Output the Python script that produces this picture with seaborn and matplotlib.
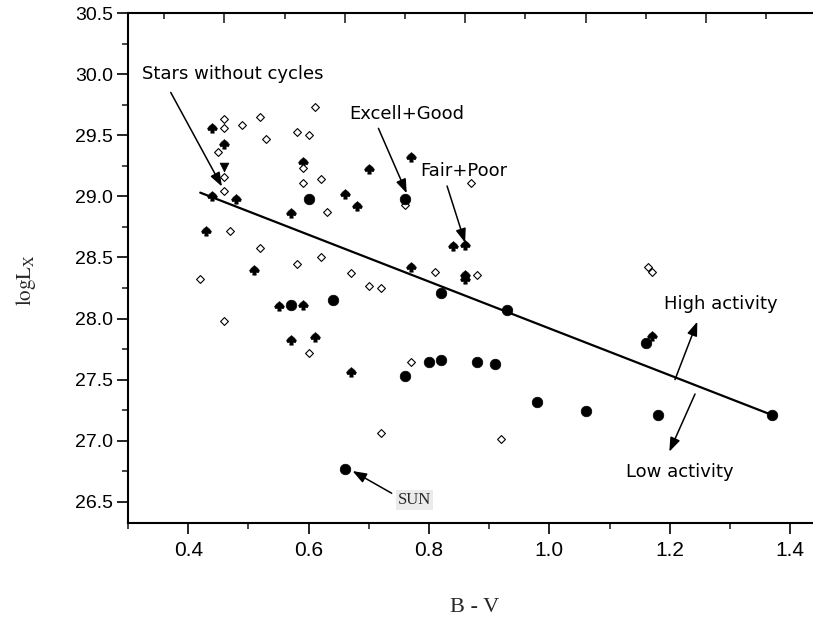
import matplotlib
matplotlib.use("Agg")
import matplotlib.pyplot as plt
from matplotlib.path import Path
from matplotlib.ticker import FixedLocator, FormatStrFormatter
from matplotlib import font_manager
import pandas as pd
import seaborn as sns

# Stars with well-determined cycles (Excell + Good)
good_bv = [0.60, 0.76, 0.57, 0.64, 0.82, 0.93, 0.76, 0.80, 0.82, 0.88, 0.91, 0.98, 1.06, 1.16, 1.18, 1.37]
good_lx = [28.98, 28.98, 28.11, 28.15, 28.21, 28.07, 27.53, 27.64, 27.66, 27.64, 27.63, 27.32, 27.24, 27.80, 27.21, 27.21]

# The Sun
sun_bv = [0.66]
sun_lx = [26.77]

# Stars with poorly determined cycles (Fair + Poor)
fair_bv = [0.44, 0.46, 0.59, 0.66, 0.68, 0.57, 0.44, 0.48, 0.70, 0.77, 0.43, 0.51,
           0.55, 0.59, 0.57, 0.61, 0.67, 0.84, 0.86, 0.77, 0.86, 0.86, 1.17]
fair_lx = [29.56, 29.43, 29.28, 29.02, 28.92, 28.86, 29.00, 28.98, 29.22, 29.32, 28.72, 28.40,
           28.10, 28.11, 27.82, 27.85, 27.56, 28.59, 28.60, 28.42, 28.36, 28.32, 27.86]

# Single flagged star
flag_bv = [0.46]
flag_lx = [29.24]

# Stars without cycles
flat_bv = [0.46, 0.46, 0.49, 0.52, 0.61, 0.58, 0.60, 0.53, 0.45, 0.46, 0.46, 0.59,
           0.59, 0.62, 0.63, 0.76, 0.87, 0.47, 0.52, 0.58, 0.62, 0.67, 0.70, 0.72,
           0.42, 0.81, 0.88, 0.46, 0.60, 0.77, 0.72, 0.92, 1.163, 1.17]
flat_lx = [29.63, 29.56, 29.58, 29.65, 29.73, 29.53, 29.50, 29.47, 29.36, 29.16, 29.04, 29.23,
           29.11, 29.14, 28.87, 28.93, 29.11, 28.72, 28.58, 28.45, 28.50, 28.37, 28.27, 28.25,
           28.32, 28.38, 28.36, 27.98, 27.72, 27.64, 27.06, 27.01, 28.42, 28.38]

# Activity boundary line
fit_bv = [0.42, 1.37]
fit_lx = [29.03, 27.21]

x_ticks = [0.4, 0.6, 0.8, 1.0, 1.2, 1.4]
x_minor = [0.3, 0.5, 0.7, 0.9, 1.1, 1.3]
y_ticks = [26.5, 27.0, 27.5, 28.0, 28.5, 29.0, 29.5, 30.0, 30.5]
y_minor = [26.75, 27.25, 27.75, 28.25, 28.75, 29.25, 29.75, 30.25]

sns.set_style("ticks")
plt.rcParams["font.family"] = ["DejaVu Sans"]
plt.rcParams["mathtext.fontset"] = "stix"


def has_font(name):
    try:
        font_manager.findfont(name, fallback_to_default=False)
        return True
    except Exception:
        return False


tick_font = "Liberation Sans" if has_font("Liberation Sans") else "DejaVu Sans"
xtick_font = "Liberation Sans Narrow" if has_font("Liberation Sans Narrow") else tick_font
serif_font = "Liberation Serif" if has_font("Liberation Serif") else "DejaVu Serif"

fig = plt.figure(figsize=(8.13, 6.22), dpi=100)
ax = fig.add_axes([128 / 813, 1 - 523 / 622, (813 - 128) / 813, (523 - 13) / 622])

# spade-like marker for the fair/poor cycles
spade = Path([(0.0, 0.95), (0.6, 0.45), (0.95, 0.0), (0.75, -0.45), (0.3, -0.4),
              (0.35, -0.9), (-0.35, -0.9), (-0.3, -0.4), (-0.75, -0.45), (-0.95, 0.0),
              (-0.6, 0.45), (0.0, 0.95)],
             [Path.MOVETO] + [Path.LINETO] * 10 + [Path.CLOSEPOLY])

fit_df = pd.DataFrame({"bv": fit_bv, "lx": fit_lx})
sns.lineplot(data=fit_df, x="bv", y="lx", ax=ax, color="black", lw=1.6, zorder=2)

sns.scatterplot(x=flag_bv, y=flag_lx, ax=ax, marker="v", s=40, color="black",
                edgecolor="black", linewidth=0.5, zorder=3, legend=False)
sns.scatterplot(x=fair_bv, y=fair_lx, ax=ax, marker=spade, s=52, color="black",
                edgecolor="black", linewidth=0.3, zorder=3, legend=False)
sns.scatterplot(x=flat_bv, y=flat_lx, ax=ax, marker="D", s=16, color="white",
                edgecolor="black", linewidth=0.8, zorder=4, legend=False)
sns.scatterplot(x=good_bv, y=good_lx, ax=ax, marker="o", s=58, color="black",
                edgecolor="black", linewidth=0.5, zorder=5, legend=False)
sns.scatterplot(x=sun_bv, y=sun_lx, ax=ax, marker="o", s=58, color="black",
                edgecolor="black", linewidth=0.5, zorder=5, legend=False)

ax.set_xlim(0.3, 0.3 + (813 - 128) / 602)
ax.set_ylim(30.5 - (523 - 13) / 122.2, 30.5)

ax.set_xticks(x_ticks)
ax.xaxis.set_minor_locator(FixedLocator(x_minor))
ax.xaxis.set_major_formatter(FormatStrFormatter("%.1f"))
ax.set_yticks(y_ticks)
ax.yaxis.set_minor_locator(FixedLocator(y_minor))
ax.yaxis.set_major_formatter(FormatStrFormatter("%.1f"))

ax.tick_params(axis="both", which="major", direction="out", length=8, width=1.2,
               color="black", labelcolor="black")
ax.tick_params(axis="both", which="minor", direction="out", length=4.5, width=1.2)
ax.tick_params(axis="x", which="major", pad=5, labelsize=15, labelfontfamily=xtick_font)
ax.tick_params(axis="y", which="major", pad=3, labelsize=14, labelfontfamily=tick_font)

for side in ("left", "top", "bottom"):
    ax.spines[side].set_linewidth(1.5)
    ax.spines[side].set_color("black")
ax.spines["right"].set_visible(False)

# upper axis ticks (inward, offset scale)
top = ax.secondary_xaxis("top", functions=(lambda x: x - 0.06, lambda x: x + 0.06))
top.set_xticks(x_ticks)
top.xaxis.set_minor_locator(FixedLocator(x_minor))
top.tick_params(which="major", direction="in", length=7, width=1.2, labeltop=False)
top.tick_params(which="minor", direction="in", length=4, width=1.2)
top.spines["top"].set_visible(False)

ax.set_xlabel("")
ax.set_ylabel("")
fig.text(26 / 813, 1 - 280 / 622, r"$\mathrm{logL_X}$", rotation=90, ha="center",
         va="center", fontsize=15)
fig.text(475 / 813, 1 - 607 / 622, "B - V", ha="center", va="center",
         fontsize=16, family=serif_font)

arrow = dict(arrowstyle="-|>,head_length=0.6,head_width=0.22", color="black", lw=1.1,
             mutation_scale=14, shrinkA=0, shrinkB=0)
lab_kw = dict(fontsize=13, ha="left", va="center", color="black")

ax.text(0.323, 30.00, "Stars without cycles", **lab_kw)
ax.annotate("", xy=(0.456, 29.08), xytext=(0.371, 29.85), arrowprops=arrow)

ax.text(0.6675, 29.67, "Excell+Good", **lab_kw)
ax.annotate("", xy=(0.763, 29.025), xytext=(0.716, 29.556), arrowprops=arrow)

ax.text(0.786, 29.21, "Fair+Poor", **lab_kw)
ax.annotate("", xy=(0.860, 28.62), xytext=(0.830, 29.084), arrowprops=arrow)

ax.text(1.190, 28.12, "High activity", **lab_kw)
ax.annotate("", xy=(1.2457, 27.974), xytext=(1.2086, 27.50), arrowprops=arrow)

ax.text(1.128, 26.74, "Low activity", **lab_kw)
ax.annotate("", xy=(1.1992, 26.910), xytext=(1.2419, 27.382), arrowprops=arrow)

ax.text(0.7485, 26.515, "SUN", fontsize=12, family=serif_font, ha="left", va="center",
        bbox=dict(boxstyle="square,pad=0.1", facecolor="#ebebeb", edgecolor="none"))
ax.annotate("", xy=(0.673, 26.752), xytext=(0.738, 26.57), arrowprops=arrow)

fig.savefig("out.png", dpi=100)
